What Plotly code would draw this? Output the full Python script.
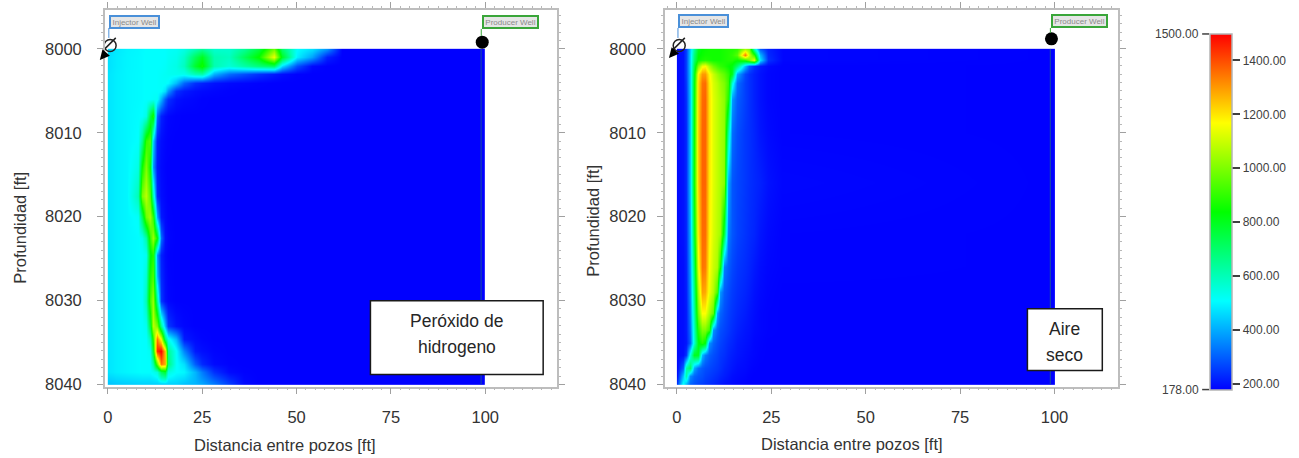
import plotly.graph_objects as go

W, H = 1299, 458
PLOT_H = 451.5  # height of the paper area once the page has laid out
ZMIN, ZMAX = 178, 1500
COLORS = ["#0000ff", "#00ffff", "#00ff00", "#ffff00", "#ff0000"]
CBAR_TICKS = [200, 400, 600, 800, 1000, 1200, 1400]
CBAR_LABELS = ["200.00", "400.00", "600.00", "800.00", "1000.00", "1200.00", "1400.00"]

# Peroxido de hidrogeno: temperature
L_X = [0, 2, 5, 8, 9, 10, 11, 12, 13, 14, 15, 16, 18, 20, 23, 25, 28, 32, 36, 40, 44, 46, 50, 54, 58, 62, 100]
L_Y = [8000, 8001, 8002, 8003, 8004, 8005, 8006, 8008, 8011, 8014, 8017.5, 8020, 8022.5, 8024.5, 8027, 8030,
       8033, 8034.5, 8036, 8037.5, 8038.5, 8040]
L_Z = [
 [460,480,495,500,505,510,510,510,510,510,510,515,520,540,600,640,570,570,640,760,980,700,510,470,370,178,178],
 [470,485,497,502,506,510,510,510,510,510,510,520,530,575,720,800,610,590,720,850,1150,800,490,390,220,178,178],
 [470,485,497,502,506,510,510,510,510,510,515,525,540,590,780,860,610,560,620,680,720,470,280,190,178,178,178],
 [475,488,498,503,506,510,510,510,510,515,520,525,530,530,600,620,410,320,280,240,210,195,180,178,178,178,178],
 [475,488,498,503,506,510,510,510,510,515,515,505,425,310,240,220,200,190,185,180,178,178,178,178,178,178,178],
 [475,488,498,503,506,510,510,510,510,510,470,375,240,210,195,190,185,180,178,178,178,178,178,178,178,178,178],
 [475,488,498,503,506,510,510,515,520,415,300,240,200,190,185,180,178,178,178,178,178,178,178,178,178,178,178],
 [475,488,498,506,510,540,750,870,320,220,195,185,180,178,178,178,178,178,178,178,178,178,178,178,178,178,178],
 [475,488,498,510,650,900,950,450,220,195,185,180,178,178,178,178,178,178,178,178,178,178,178,178,178,178,178],
 [475,488,498,540,850,1000,850,380,210,190,182,178,178,178,178,178,178,178,178,178,178,178,178,178,178,178,178],
 [475,488,498,600,1000,1080,950,600,230,195,185,178,178,178,178,178,178,178,178,178,178,178,178,178,178,178,178],
 [475,488,498,515,720,980,1050,900,400,210,190,180,178,178,178,178,178,178,178,178,178,178,178,178,178,178,178],
 [475,488,498,506,525,620,900,1040,850,320,200,185,178,178,178,178,178,178,178,178,178,178,178,178,178,178,178],
 [475,488,498,506,510,525,820,880,380,220,190,180,178,178,178,178,178,178,178,178,178,178,178,178,178,178,178],
 [475,488,498,506,510,560,870,940,420,230,195,182,178,178,178,178,178,178,178,178,178,178,178,178,178,178,178],
 [475,488,498,506,510,600,920,1040,650,250,200,185,178,178,178,178,178,178,178,178,178,178,178,178,178,178,178],
 [475,488,498,506,510,525,750,1080,1000,650,420,250,200,185,178,178,178,178,178,178,178,178,178,178,178,178,178],
 [475,488,498,506,510,510,600,880,1350,1150,700,530,420,210,190,182,178,178,178,178,178,178,178,178,178,178,178],
 [475,488,498,506,510,510,525,780,1450,1500,1250,650,515,350,210,195,182,178,178,178,178,178,178,178,178,178,178],
 [475,488,498,506,510,510,510,620,950,1350,1280,680,515,470,300,230,190,180,178,178,178,178,178,178,178,178,178],
 [475,488,498,506,510,510,510,525,550,720,780,550,510,500,415,340,240,190,180,178,178,178,178,178,178,178,178],
 [430,440,445,450,450,450,450,450,450,450,450,450,450,430,415,395,340,260,190,178,178,178,178,178,178,178,178],
]

# Aire seco: temperature
R_X = [0, 1.5, 2.5, 3.5, 4.5, 5.5, 6.5, 7.5, 8.5, 9.5, 10.5, 11.5, 12.5, 13.5, 14.5, 16, 18, 19, 20.5, 22, 24, 28, 100]
R_Y = [8000, 8000.7, 8001.3, 8002, 8003, 8004, 8006, 8010, 8016, 8022, 8026, 8029, 8031.5, 8033.5, 8035, 8036.5,
       8038, 8039, 8040]
R_Z = [
 [190,200,260,440,640,800,840,850,860,860,860,860,870,880,880,900,1050,1000,600,300,220,185,178],
 [190,200,260,450,680,830,850,860,860,860,860,860,870,880,900,950,1350,1100,900,420,230,185,178],
 [190,200,260,450,700,850,870,880,870,860,860,860,870,880,880,850,900,1000,1150,480,240,185,178],
 [190,200,260,450,750,1000,1150,1170,1060,980,930,900,880,850,820,700,420,300,240,210,190,180,178],
 [190,200,260,440,800,1180,1300,1300,1180,1100,1040,1000,960,900,800,400,270,240,220,200,185,180,178],
 [190,200,250,440,820,1210,1350,1360,1200,1120,1080,1040,1000,920,560,320,260,240,220,200,185,180,178],
 [190,200,240,430,830,1220,1360,1370,1210,1130,1090,1060,1020,880,380,300,260,240,220,200,185,180,178],
 [190,200,230,430,840,1230,1370,1370,1210,1130,1090,1060,1030,640,320,280,250,240,225,205,190,180,178],
 [190,200,230,430,850,1230,1370,1370,1200,1130,1090,1060,1020,400,290,270,250,240,230,220,200,185,178],
 [190,200,225,400,790,1200,1360,1360,1190,1120,1080,1050,760,340,290,265,245,235,225,205,190,180,178],
 [190,195,220,380,720,1140,1350,1340,1170,1100,1060,860,340,300,270,250,235,225,210,195,185,180,178],
 [190,195,215,360,670,1050,1290,1280,1150,1070,930,380,300,275,255,240,225,215,200,190,182,178,178],
 [190,195,210,340,630,980,1170,1170,1060,970,400,310,280,260,245,230,215,205,195,185,180,178,178],
 [190,195,210,320,590,880,1000,1000,920,370,310,280,265,250,235,220,205,200,190,185,180,178,178],
 [190,195,205,300,570,820,880,830,370,310,280,265,250,235,225,210,200,195,185,182,178,178,178],
 [190,195,240,540,800,800,420,340,300,280,265,250,240,225,215,205,195,190,185,180,178,178,178],
 [190,300,620,720,400,320,295,280,270,260,250,240,225,215,205,195,190,185,180,178,178,178,178],
 [200,430,620,360,310,290,280,265,255,245,235,225,215,205,195,190,185,180,178,178,178,178,178],
 [250,520,420,310,285,270,260,250,240,230,220,210,200,195,190,185,180,178,178,178,178,178,178],
]

# Wells (data coordinates)
INJ_X, INJ_Y = [0.6, 0.5], [7999.6, 7999.4]
PROD_X = [99.2]
PROD_Y = {"L": [7999.2], "R": [7998.8]}
PROD_TRACK_X, PROD_TRACK_Y = [98.9, 98.9], [8000, 8040]
X_RANGES = {"L": [-0.8, 119.05], "R": [-3.17, 116.9]}
Y_RANGE = [8040.25, 7995.36]
X_TICKS = [0, 25, 50, 75, 100]
Y_TICKS = [8000, 8010, 8020, 8030, 8040]
X_TITLE = "Distancia entre pozos [ft]"
Y_TITLE = "Profundidad [ft]"


def px(x):
    return x / W


def py(y):
    return 1 - y / PLOT_H


def edge_pad(vals):
    # keeps the heatmap flush with its first and last coordinate
    return [vals[0], vals[0] + 0.02] + vals[1:-1] + [vals[-1] - 0.02, vals[-1]]


def pad_z(z):
    rows = [[r[0]] + r + [r[-1]] for r in z]
    return [rows[0]] + rows + [rows[-1]]


fig = go.Figure()
INK = "#222222"
for name, xs, ys, zs, xa, ya in [("L", L_X, L_Y, L_Z, "x", "y"), ("R", R_X, R_Y, R_Z, "x2", "y2")]:
    fig.add_trace(go.Heatmap(x=edge_pad(xs), y=edge_pad(ys), z=pad_z(zs), coloraxis="coloraxis",
                             zsmooth="best", xaxis=xa, yaxis=ya, hoverinfo="skip"))
    fig.add_trace(go.Scatter(x=PROD_TRACK_X, y=PROD_TRACK_Y, mode="lines", xaxis=xa, yaxis=ya,
                             line=dict(color="#1a50a0", width=1), showlegend=False, hoverinfo="skip"))
    fig.add_trace(go.Scatter(x=PROD_X, y=PROD_Y[name], mode="markers", xaxis=xa, yaxis=ya,
                             marker=dict(color="black", size=13, symbol="circle"), showlegend=False, hoverinfo="skip"))
    fig.add_trace(go.Scatter(x=INJ_X[:1], y=INJ_Y[:1], mode="markers", xaxis=xa, yaxis=ya, cliponaxis=False,
                             marker=dict(size=12, symbol="circle-open", color=INK, line=dict(color=INK, width=1.5)),
                             showlegend=False, hoverinfo="skip"))
    fig.add_trace(go.Scatter(x=INJ_X[1:], y=INJ_Y[1:], mode="markers", xaxis=xa, yaxis=ya, cliponaxis=False,
                             marker=dict(size=12, symbol="line-ne-open", color=INK, line=dict(color=INK, width=1.5)),
                             showlegend=False, hoverinfo="skip"))

axis_common = dict(showgrid=False, zeroline=False, showline=True, linecolor="#bdbdbd", linewidth=1.5,
                   mirror="ticks", ticks="outside", ticklen=6, tickwidth=1, tickcolor="#a0a0a0",
                   tickfont=dict(family="Liberation Sans", size=16.5, color="#333333"))
x_minor = dict(dtick=2.5, ticks="outside", ticklen=2, tickcolor="#b8b8b8", tickwidth=1, showgrid=False)
y_minor = dict(dtick=1, ticks="outside", ticklen=2, tickcolor="#b8b8b8", tickwidth=1, showgrid=False)

fig.update_layout(
    width=W, height=H, autosize=False, margin=dict(l=0, r=0, t=0, b=0),
    paper_bgcolor="white", plot_bgcolor="white", showlegend=False,
    xaxis=dict(domain=[px(103), px(556)], range=X_RANGES["L"], tickvals=X_TICKS, minor=x_minor,
               anchor="y", ticklabelstandoff=9, **axis_common),
    yaxis=dict(domain=[py(387), py(10)], range=Y_RANGE, tickvals=Y_TICKS, minor=y_minor,
               anchor="x", ticklabelstandoff=12, **axis_common),
    xaxis2=dict(domain=[px(664), px(1118)], range=X_RANGES["R"], tickvals=X_TICKS, minor=x_minor,
                anchor="y2", ticklabelstandoff=9, **axis_common),
    yaxis2=dict(domain=[py(387), py(10)], range=Y_RANGE, tickvals=Y_TICKS, minor=y_minor,
                anchor="x2", ticklabelstandoff=8, **axis_common),
    coloraxis=dict(cmin=ZMIN, cmax=ZMAX,
                   colorscale=[[i / 4, c] for i, c in enumerate(COLORS)],
                   colorbar=dict(thickness=22, thicknessmode="pixels", len=356, lenmode="pixels",
                                 x=px(1209.5), xanchor="left", xpad=0, y=py(390), yanchor="bottom", ypad=0,
                                 outlinecolor="#b4b4b4", outlinewidth=1.5, borderwidth=0,
                                 tickvals=CBAR_TICKS, ticktext=CBAR_LABELS, ticks="outside", ticklen=8,
                                 tickwidth=1.5, tickcolor="#404040",
                                 tickfont=dict(family="Liberation Sans", size=12, color="#404040"))),
)

FONT = "Liberation Sans"
ann = []
shapes = []


def text(x, y, s, size=16.5, color="#333333", rot=0, xanchor="center"):
    ann.append(dict(xref="paper", yref="paper", x=px(x), y=py(y), text=s, showarrow=False, textangle=rot,
                    xanchor=xanchor, yanchor="middle", font=dict(family=FONT, size=size, color=color)))


text(283, 445, X_TITLE)
text(851.5, 444, X_TITLE)
text(18, 228, Y_TITLE, rot=-90)
text(592, 221, Y_TITLE, rot=-90)
text(1201, 34, "1500.00", size=12, color="#404040", xanchor="right")
text(1201, 390, "178.00", size=12, color="#404040", xanchor="right")
for yy in (34, 390):
    shapes.append(dict(type="line", xref="paper", yref="paper", x0=px(1202), x1=px(1209), y0=py(yy), y1=py(yy),
                       line=dict(color="#404040", width=1.5)))

# boxed notes
for (x0, y0, x1, y1, lines) in [(369, 301, 542, 375, [("Peróxido de", 321), ("hidrogeno", 347)]),
                                (1027, 309, 1102, 371, [("Aire", 329), ("seco", 355)])]:
    shapes.append(dict(type="rect", xref="paper", yref="paper", x0=px(x0), x1=px(x1), y0=py(y0), y1=py(y1),
                       fillcolor="white", line=dict(color="#1a1a1a", width=1.5), layer="above"))
    for s, yy in lines:
        text((x0 + x1) / 2, yy, s, size=17.5, color="#262626")

# well labels and leaders
for (cx, cy, s, col, bw, lx, ly0, ly1) in [(133, 22, "Injector Well", "#4a90d9", 47, 107, 28, 38),
                                           (509, 22, "Producer Well", "#3aa63a", 53, 480, 29, 36),
                                           (702.5, 21, "Injector Well", "#4a90d9", 47, 677, 28, 38),
                                           (1079, 21, "Producer Well", "#3aa63a", 53, 1050, 28, 33)]:
    shapes.append(dict(type="line", xref="paper", yref="paper", x0=px(lx), x1=px(lx), y0=py(ly0), y1=py(ly1),
                       line=dict(color=col, width=1)))
    ann.append(dict(xref="paper", yref="paper", x=px(cx), y=py(cy), xanchor="center", yanchor="middle",
                    text=s, showarrow=False, width=bw, height=10, align="center",
                    bgcolor="#e6e6e6", bordercolor=col, borderwidth=2, borderpad=0,
                    font=dict(family=FONT, size=8, color="#8a8a8a")))

# injection arrows
for (tx, ty, ox, oy) in [(98, 60, 104, 53), (668, 58, 674, 51)]:
    ann.append(dict(xref="paper", yref="paper", x=px(tx), y=py(ty), ax=ox - tx, ay=oy - ty,
                    showarrow=True, arrowhead=2, arrowsize=1.3, arrowwidth=1.5, arrowcolor="black", text=""))

fig.update_layout(annotations=ann, shapes=shapes)
fig.write_html("out.html", config={"displayModeBar": False},
               post_script="document.body.style.margin='0';document.body.style.overflow='hidden';")
